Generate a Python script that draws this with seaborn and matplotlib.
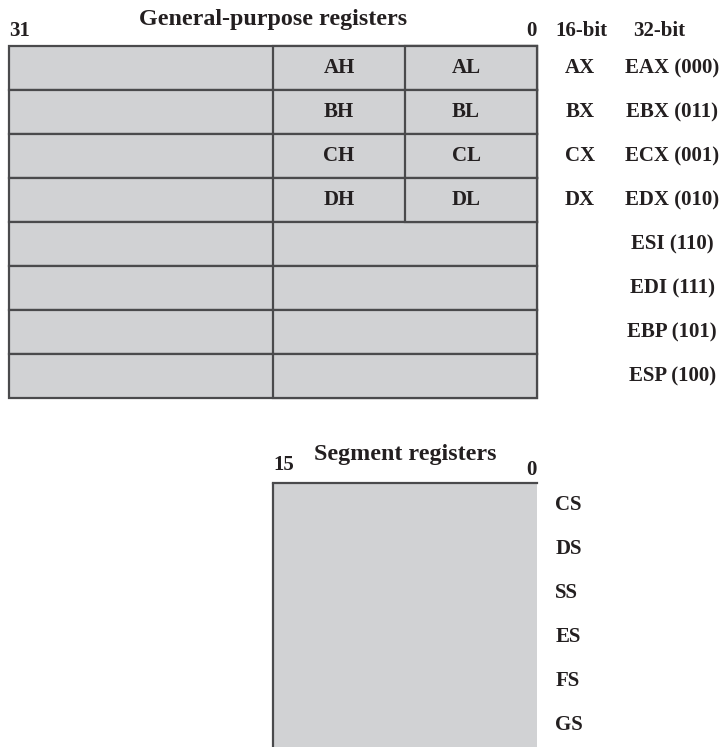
import matplotlib
matplotlib.use("Agg")
import matplotlib.pyplot as plt
import seaborn as sns

# register names and widths (bits)
gp_names = ["EAX", "EBX", "ECX", "EDX", "ESI", "EDI", "EBP", "ESP"]
gp_codes = ["EAX (000)", "EBX (011)", "ECX (001)", "EDX (010)",
            "ESI (110)", "EDI (111)", "EBP (101)", "ESP (100)"]
reg16 = ["AX", "BX", "CX", "DX"]
high8 = ["AH", "BH", "CH", "DH"]
low8 = ["AL", "BL", "CL", "DL"]
full_bits = [32] * 8
low16_bits = [16] * 8
low8_bits = [8] * 4

seg_names = ["CS", "DS", "SS", "ES", "FS", "GS"]
seg_bits = [16] * 6

fill = "#d1d2d4"
line = "#4a4a4c"
ink = "#231f20"

sns.set_theme(style="white")
plt.rcParams["font.family"] = ["Liberation Serif", "DejaVu Serif"]
plt.rcParams["font.weight"] = "bold"

W, H = 723, 747
fig = plt.figure(figsize=(W / 100, H / 100), dpi=100)

def box(l, t, r, b):
    return [l / W, 1 - b / H, (r - l) / W, (b - t) / H]

# general-purpose registers
ax = fig.add_axes(box(9, 46, 537, 398))
kw = dict(orient="h", width=1, color=fill, saturation=1, edgecolor=line,
          linewidth=1.6, errorbar=None, order=gp_names, ax=ax)
sns.barplot(x=full_bits, y=gp_names, **kw)
sns.barplot(x=low16_bits, y=gp_names, **kw)
sns.barplot(x=low8_bits, y=gp_names[:4], **kw)
ax.set_xlim(32, 0)
ax.set_ylim(7.5, -0.5)
ax.axis("off")
for p in ax.patches:
    p.set_clip_on(False)

fs = 15
tfs = 17.3
for i in range(4):
    ax.text(12, i, high8[i], ha="center", va="center", fontsize=fs, color=ink)
    ax.text(4.3, i, low8[i], ha="center", va="center", fontsize=fs, color=ink)
    ax.text(-2.6, i, reg16[i], ha="center", va="center", fontsize=fs, color=ink)
for i, c in enumerate(gp_codes):
    ax.text(-8.2, i, c, ha="center", va="center", fontsize=fs, color=ink)

ax.text(32, -0.85, "31", ha="left", va="center", fontsize=fs, color=ink)
ax.text(0, -0.85, "0", ha="right", va="center", fontsize=fs, color=ink)
ax.text(-2.7, -0.83, "16-bit", ha="center", va="center", fontsize=fs, color=ink)
ax.text(-7.4, -0.83, "32-bit", ha="center", va="center", fontsize=fs, color=ink)
ax.text(16, -1.1, "General-purpose registers", ha="center", va="center",
        fontsize=tfs, color=ink)

# segment registers
ax2 = fig.add_axes(box(273, 483, 537, 747))
sns.barplot(x=seg_bits, y=seg_names, orient="h", width=1, color=fill,
            saturation=1, linewidth=0, errorbar=None, order=seg_names, ax=ax2)
ax2.set_xlim(16, 0)
ax2.set_ylim(5.5, -0.5)
ax2.axis("off")
ax2.plot([16, 0], [-0.5, -0.5], color=line, lw=1.6, clip_on=False,
         solid_capstyle="projecting")
ax2.plot([16, 16], [-0.5, 5.5], color=line, lw=1.6, clip_on=False)
for i, s in enumerate(seg_names):
    ax2.text(-1.1, i, s, ha="left", va="center", fontsize=fs, color=ink)
ax2.text(16, -0.9, "15", ha="left", va="center", fontsize=fs, color=ink)
ax2.text(0, -0.8, "0", ha="right", va="center", fontsize=fs, color=ink)
ax2.text(8, -1.15, "Segment registers", ha="center", va="center",
         fontsize=tfs, color=ink)

fig.savefig("out.png", dpi=100)
